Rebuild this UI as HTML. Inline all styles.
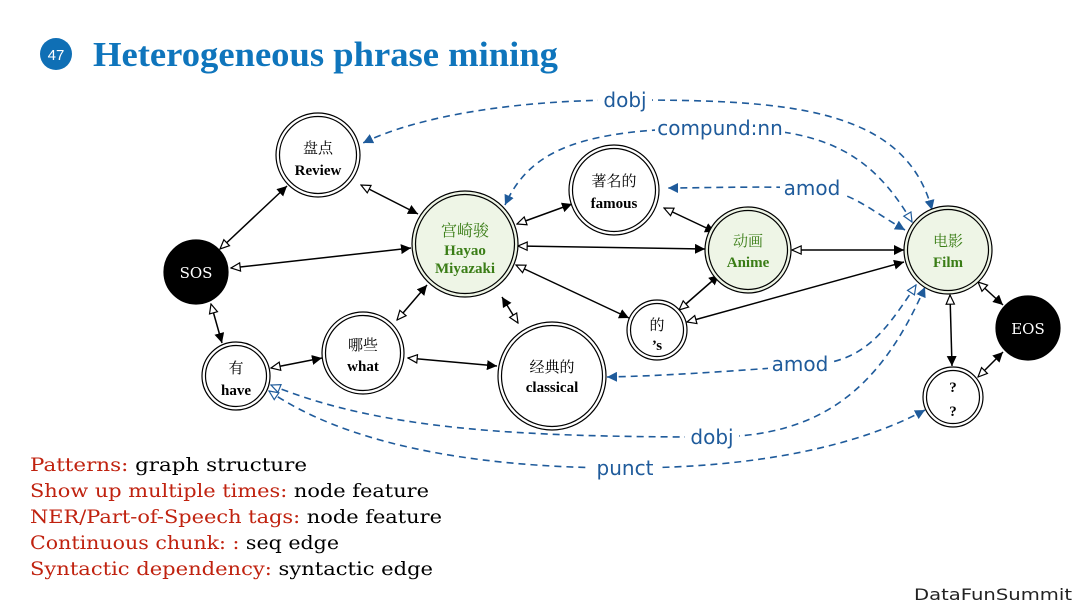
<!DOCTYPE html>
<html><head><meta charset="utf-8"><style>
html,body{margin:0;padding:0;background:#fff;}
svg{display:block;}
</style></head><body>
<svg width="1080" height="608" viewBox="0 0 1080 608" xmlns="http://www.w3.org/2000/svg">
<defs>
<marker id="f" viewBox="0 0 10 10" refX="10" refY="5" markerWidth="10" markerHeight="10" markerUnits="userSpaceOnUse" orient="auto-start-reverse"><path d="M0,0 L10,5 L0,10 z" fill="#000"/></marker>
<marker id="h" viewBox="0 0 12 12" refX="11" refY="6" markerWidth="11" markerHeight="11" markerUnits="userSpaceOnUse" orient="auto-start-reverse"><path d="M1,1.5 L11,6 L1,10.5 z" fill="#fff" stroke="#000" stroke-width="1.3"/></marker>
<marker id="bf" viewBox="0 0 10 10" refX="10" refY="5" markerWidth="10" markerHeight="10" markerUnits="userSpaceOnUse" orient="auto-start-reverse"><path d="M0,0 L10,5 L0,10 z" fill="#1f5b9b"/></marker>
<marker id="bh" viewBox="0 0 12 12" refX="11" refY="6" markerWidth="11" markerHeight="11" markerUnits="userSpaceOnUse" orient="auto-start-reverse"><path d="M1,1.5 L11,6 L1,10.5 z" fill="#fff" stroke="#1f5b9b" stroke-width="1.3"/></marker>
</defs>

<circle cx="56" cy="54" r="16" fill="#0f6fb5"/>
<text x="56" y="60" text-anchor="middle" font-family="Liberation Sans, sans-serif" font-size="15" fill="#fff">47</text>
<text x="93" y="66" font-family="Liberation Serif, serif" font-weight="bold" font-size="35" fill="#0f75bc" textLength="465" lengthAdjust="spacingAndGlyphs">Heterogeneous phrase mining</text>

<g fill="none" stroke="#1f5b9b" stroke-width="1.6" stroke-dasharray="7,5">
<path d="M932 210 C905 105, 780 100, 625 100 C520 100, 420 115, 363 143" marker-start="url(#bf)" marker-end="url(#bf)"/>
<path d="M912 222 C870 150, 820 128, 720 128 C580 128, 530 150, 505 205" marker-start="url(#bh)" marker-end="url(#bf)"/>
<path d="M905 230 C870 210, 850 190, 812 188 C760 186, 700 188, 668 188" marker-start="url(#bf)" marker-end="url(#bf)"/>
<path d="M916 285 C880 340, 860 364, 800 366 C720 372, 660 376, 607 377" marker-start="url(#bh)" marker-end="url(#bf)"/>
<path d="M925 287 C880 390, 820 437, 712 437 C520 437, 380 430, 271 385" marker-start="url(#bf)" marker-end="url(#bh)"/>
<path d="M925 410 C860 445, 760 468, 625 468 C460 468, 340 440, 269 391" marker-start="url(#bf)" marker-end="url(#bh)"/>
</g>
<g font-family="DejaVu Sans, Liberation Sans, sans-serif" font-size="20" fill="#1f5b9b" text-anchor="middle">
<rect x="598" y="88" width="54" height="24" fill="#fff"/><text x="625" y="107">dobj</text>
<rect x="655" y="116" width="130" height="24" fill="#fff"/><text x="720" y="135">compund:nn</text>
<rect x="780" y="176" width="64" height="24" fill="#fff"/><text x="812" y="195">amod</text>
<rect x="768" y="352" width="64" height="24" fill="#fff"/><text x="800" y="371">amod</text>
<rect x="685" y="425" width="54" height="24" fill="#fff"/><text x="712" y="444">dobj</text>
<rect x="590" y="456" width="70" height="24" fill="#fff"/><text x="625" y="475">punct</text>
</g>

<g stroke="#000" stroke-width="1.5" fill="none">
<line x1="220" y1="249" x2="287" y2="186" marker-start="url(#h)" marker-end="url(#f)"/>
<line x1="361" y1="185" x2="418" y2="214" marker-start="url(#h)" marker-end="url(#f)"/>
<line x1="231" y1="268" x2="411" y2="248" marker-start="url(#h)" marker-end="url(#f)"/>
<line x1="517" y1="224" x2="572" y2="204" marker-start="url(#h)" marker-end="url(#f)"/>
<line x1="518" y1="246" x2="705" y2="249" marker-start="url(#h)" marker-end="url(#f)"/>
<line x1="664" y1="208" x2="715" y2="232" marker-start="url(#h)" marker-end="url(#f)"/>
<line x1="516" y1="265" x2="629" y2="318" marker-start="url(#h)" marker-end="url(#f)"/>
<line x1="679" y1="310" x2="719" y2="275" marker-start="url(#h)" marker-end="url(#f)"/>
<line x1="687" y1="322" x2="904" y2="262" marker-start="url(#h)" marker-end="url(#f)"/>
<line x1="792" y1="250" x2="904" y2="250" marker-start="url(#h)" marker-end="url(#f)"/>
<line x1="978" y1="282" x2="1003" y2="305" marker-start="url(#h)" marker-end="url(#f)"/>
<line x1="950" y1="295" x2="952" y2="366" marker-start="url(#h)" marker-end="url(#f)"/>
<line x1="978" y1="377" x2="1003" y2="352" marker-start="url(#h)" marker-end="url(#f)"/>
<line x1="518" y1="323" x2="502" y2="297" marker-start="url(#h)" marker-end="url(#f)"/>
<line x1="397" y1="320" x2="427" y2="285" marker-start="url(#h)" marker-end="url(#f)"/>
<line x1="211" y1="304" x2="222" y2="343" marker-start="url(#h)" marker-end="url(#f)"/>
<line x1="271" y1="368" x2="322" y2="358" marker-start="url(#h)" marker-end="url(#f)"/>
<line x1="408" y1="358" x2="497" y2="366" marker-start="url(#h)" marker-end="url(#f)"/>
</g>

<g stroke="#000" stroke-width="1.2">
<circle cx="318" cy="155" r="42" fill="#fff"/><circle cx="318" cy="155" r="38.5" fill="none"/>
<circle cx="465" cy="244" r="53" fill="#eef5e6"/><circle cx="465" cy="244" r="49.5" fill="none"/>
<circle cx="614" cy="190" r="45" fill="#fff"/><circle cx="614" cy="190" r="41.5" fill="none"/>
<circle cx="748" cy="250" r="43" fill="#eef5e6"/><circle cx="748" cy="250" r="39.5" fill="none"/>
<circle cx="948" cy="250" r="44" fill="#eef5e6"/><circle cx="948" cy="250" r="40.5" fill="none"/>
<circle cx="657" cy="330" r="30" fill="#fff"/><circle cx="657" cy="330" r="26.5" fill="none"/>
<circle cx="552" cy="376" r="54" fill="#fff"/><circle cx="552" cy="376" r="50.5" fill="none"/>
<circle cx="363" cy="353" r="41" fill="#fff"/><circle cx="363" cy="353" r="37.5" fill="none"/>
<circle cx="236" cy="376" r="34" fill="#fff"/><circle cx="236" cy="376" r="30.5" fill="none"/>
<circle cx="953" cy="397" r="30" fill="#fff"/><circle cx="953" cy="397" r="26.5" fill="none"/>
<circle cx="196" cy="272" r="32" fill="#000"/>
<circle cx="1028" cy="328" r="32" fill="#000"/>
</g>
<g font-family="Liberation Serif, 'Noto Serif CJK SC', serif" font-size="15" text-anchor="middle">
<text x="196" y="278" fill="#fff" font-family="DejaVu Serif, serif">SOS</text>
<text x="1028" y="334" fill="#fff" font-family="DejaVu Serif, serif">EOS</text>
<text x="318" y="153" fill="#000">盘点</text><text x="318" y="175" fill="#000" font-weight="bold">Review</text>
<text x="465" y="236" fill="#3a7d16" font-size="16">宫崎骏</text><text x="465" y="255" fill="#3a7d16" font-weight="bold">Hayao</text><text x="465" y="273" fill="#3a7d16" font-weight="bold">Miyazaki</text>
<text x="614" y="186" fill="#000">著名的</text><text x="614" y="208" fill="#000" font-weight="bold">famous</text>
<text x="748" y="246" fill="#3a7d16">动画</text><text x="748" y="267" fill="#3a7d16" font-weight="bold">Anime</text>
<text x="948" y="246" fill="#3a7d16">电影</text><text x="948" y="267" fill="#3a7d16" font-weight="bold">Film</text>
<text x="657" y="330" fill="#000">的</text><text x="657" y="350" fill="#000" font-weight="bold">’s</text>
<text x="552" y="372" fill="#000">经典的</text><text x="552" y="392" fill="#000" font-weight="bold">classical</text>
<text x="363" y="350" fill="#000">哪些</text><text x="363" y="371" fill="#000" font-weight="bold">what</text>
<text x="236" y="373" fill="#000">有</text><text x="236" y="395" fill="#000" font-weight="bold">have</text>
<text x="953" y="392" fill="#000" font-weight="bold">?</text><text x="953" y="416" fill="#000" font-weight="bold">?</text>
</g>

<g font-family="DejaVu Serif, Liberation Serif, serif" font-size="19">
<text x="30" y="471" textLength="277" lengthAdjust="spacingAndGlyphs"><tspan fill="#c0220f">Patterns: </tspan><tspan fill="#000">graph structure</tspan></text>
<text x="30" y="497" textLength="399" lengthAdjust="spacingAndGlyphs"><tspan fill="#c0220f">Show up multiple times: </tspan><tspan fill="#000">node feature</tspan></text>
<text x="30" y="523" textLength="412" lengthAdjust="spacingAndGlyphs"><tspan fill="#c0220f">NER/Part-of-Speech tags: </tspan><tspan fill="#000">node feature</tspan></text>
<text x="30" y="549" textLength="309" lengthAdjust="spacingAndGlyphs"><tspan fill="#c0220f">Continuous chunk: : </tspan><tspan fill="#000">seq edge</tspan></text>
<text x="30" y="575" textLength="403" lengthAdjust="spacingAndGlyphs"><tspan fill="#c0220f">Syntactic dependency: </tspan><tspan fill="#000">syntactic edge</tspan></text>
</g>
<text x="1072" y="600" text-anchor="end" font-family="DejaVu Sans, sans-serif" font-size="16" fill="#222" textLength="158" lengthAdjust="spacingAndGlyphs">DataFunSummit</text>
</svg>
</body></html>
